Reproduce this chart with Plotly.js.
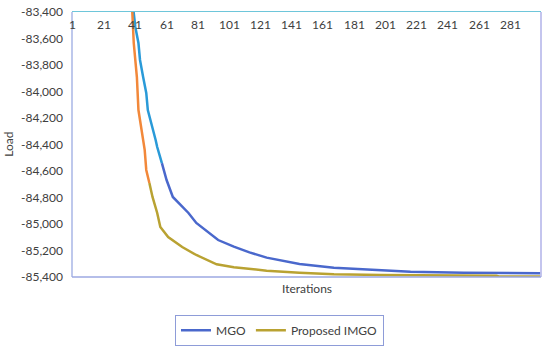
<!DOCTYPE html>
<html>
<head>
<meta charset="utf-8">
<script src="https://cdn.plot.ly/plotly-3.0.1.min.js"></script>
<style>html,body{margin:0;padding:0;background:#fff;}#chart{width:550px;height:346px;}</style>
</head>
<body>
<div id="chart"></div>
<script>
// Data
const mgoIter = [38, 40, 41, 43, 44, 46, 48, 49, 52, 54, 55, 58, 61, 65, 71, 75, 80, 87, 94, 104, 114, 125, 146, 168, 198, 217, 251, 276, 300];
const mgoLoad = [-83200, -83385, -83513, -83634, -83762, -83891, -84011, -84140, -84268, -84366, -84419, -84540, -84668, -84796, -84872, -84917, -84992, -85060, -85121, -85171, -85214, -85254, -85302, -85330, -85347, -85360, -85367, -85372, -85372];

const imgoIter = [36, 39, 40, 42, 43, 45, 47, 48, 50, 52, 55, 57, 62, 71, 80, 93, 104, 125, 146, 168, 198, 272, 274, 300];
const imgoLoad = [-83150, -83385, -83634, -83891, -84140, -84291, -84441, -84592, -84691, -84796, -84917, -85023, -85098, -85174, -85234, -85304, -85327, -85352, -85367, -85380, -85385, -85390, -85397, -85397];

const xTickVals = [1, 21, 41, 61, 81, 101, 121, 141, 161, 181, 201, 221, 241, 261, 281];
const yTickVals = [-83400, -83600, -83800, -84000, -84200, -84400, -84600, -84800, -85000, -85200, -85400];
const yTickText = ["-83,400", "-83,600", "-83,800", "-84,000", "-84,200", "-84,400", "-84,600", "-84,800", "-85,000", "-85,200", "-85,400"];

const seriesNames = ["MGO", "Proposed IMGO"];

// split a series into an upper-colour part and a lower-colour part at a data index
function part(arr, k, upper) { return upper ? arr.slice(0, k + 1) : arr.slice(k); }
const mgoSplit = 11, imgoSplit = 8;

const FONT = "Lato, 'Open Sans', sans-serif";
const TXT = '#404040';

const traces = [
  {x: part(mgoIter, mgoSplit, false), y: part(mgoLoad, mgoSplit, false), type: 'scatter', mode: 'lines',
   name: seriesNames[0], line: {color: '#4A68CC', width: 2.5}},
  {x: part(imgoIter, imgoSplit, false), y: part(imgoLoad, imgoSplit, false), type: 'scatter', mode: 'lines',
   name: seriesNames[1], line: {color: '#B9A232', width: 2.5}},
  {x: part(mgoIter, mgoSplit, true), y: part(mgoLoad, mgoSplit, true), type: 'scatter', mode: 'lines',
   name: seriesNames[0], showlegend: false, line: {color: '#2A9AD8', width: 2.5}},
  {x: part(imgoIter, imgoSplit, true), y: part(imgoLoad, imgoSplit, true), type: 'scatter', mode: 'lines',
   name: seriesNames[1], showlegend: false, line: {color: '#F2883A', width: 2.5}}
];

const xLabelAnnotations = xTickVals.map(v => ({
  text: String(v), xref: 'x', yref: 'paper', x: v, y: 0.951, xanchor: 'center', yanchor: 'middle',
  showarrow: false, font: {family: FONT, size: 12, color: TXT}
}));

const layout = {
  width: 550, height: 346,
  margin: {l: 72, r: 9, t: 12, b: 69, autoexpand: false},
  paper_bgcolor: '#fff', plot_bgcolor: '#fff',
  font: {family: FONT, size: 12, color: TXT},
  showlegend: true,
  xaxis: {
    range: [0.5, 300.5], side: 'top', showticklabels: false, ticks: '', automargin: false,
    showgrid: false, zeroline: false, showline: true, linecolor: '#6EC6DA', linewidth: 1.5
  },
  yaxis: {
    range: [-85400, -83400], tickmode: 'array', tickvals: yTickVals, ticktext: yTickText, automargin: false,
    ticks: '', ticklabelstandoff: 8, showgrid: false, zeroline: false, showline: false,
    tickfont: {family: FONT, size: 12, color: TXT}
  },
  shapes: [
    {type: 'line', xref: 'paper', yref: 'paper', x0: 0, x1: 0, y0: 0, y1: 1, line: {color: '#A9B6E6', width: 1.5}},
    {type: 'line', xref: 'paper', yref: 'paper', x0: 1, x1: 1, y0: 0, y1: 1, line: {color: '#B0B2E8', width: 1.5}},
    {type: 'line', xref: 'paper', yref: 'paper', x0: 0, x1: 1, y0: 0, y1: 0, line: {color: '#9CA8E2', width: 1.5}}
  ],
  annotations: [
    {text: 'Iterations', xref: 'paper', yref: 'paper', x: 0.5, y: -0.042, xanchor: 'center', yanchor: 'middle',
     showarrow: false, font: {family: FONT, size: 12, color: TXT}},
    {text: 'Load', xref: 'paper', yref: 'paper', x: -0.136, y: 0.5, xanchor: 'center', yanchor: 'middle',
     textangle: -90, showarrow: false, font: {family: FONT, size: 12, color: TXT}}
  ].concat(xLabelAnnotations),
  legend: {
    orientation: 'h', x: 0.2196, xanchor: 'left', yref: 'container', y: 0.09, yanchor: 'top',
    bordercolor: '#8E9CD8', borderwidth: 1, bgcolor: '#fff',
    font: {family: FONT, size: 12, color: TXT}, itemwidth: 30
  }
};

Plotly.newPlot('chart', traces, layout, {displayModeBar: false, staticPlot: true});
</script>
</body>
</html>
